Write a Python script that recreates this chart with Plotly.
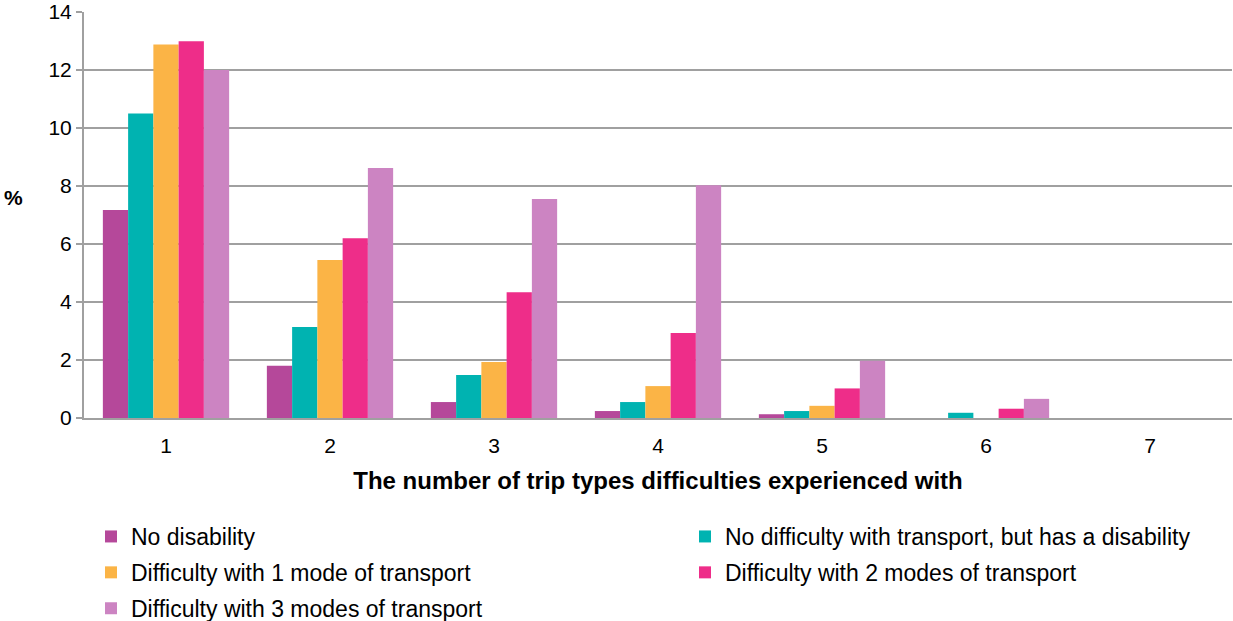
import plotly.graph_objects as go

categories = ["1", "2", "3", "4", "5", "6", "7"]

no_disability = [7.17, 1.80, 0.55, 0.24, 0.13, 0.0, 0.0]
no_difficulty = [10.50, 3.14, 1.48, 0.55, 0.24, 0.18, 0.0]
difficulty_1 = [12.88, 5.45, 1.93, 1.10, 0.42, 0.0, 0.0]
difficulty_2 = [12.99, 6.20, 4.34, 2.93, 1.02, 0.32, 0.0]
difficulty_3 = [12.00, 8.62, 7.55, 8.03, 1.97, 0.66, 0.0]

series = [
    ("No disability", no_disability, "#B5489A", "legend"),
    ("No difficulty with transport, but has a disability", no_difficulty, "#00B3B1", "legend2"),
    ("Difficulty with 1 mode of transport", difficulty_1, "#FBB446", "legend"),
    ("Difficulty with 2 modes of transport", difficulty_2, "#EE2D89", "legend2"),
    ("Difficulty with 3 modes of transport", difficulty_3, "#CC84C2", "legend"),
]

fig = go.Figure()
for name, vals, col, leg in series:
    fig.add_trace(go.Bar(
        x=categories, y=vals, name=name, legend=leg, legendgroup=name,
        marker=dict(color=col, line=dict(width=0)),
    ))

font = "Liberation Sans, Arial, sans-serif"
legend_style = dict(
    orientation="v", xref="container", yref="container",
    yanchor="top", xanchor="left", tracegroupgap=3,
    font=dict(family=font, size=23, color="#000000"),
    bgcolor="rgba(0,0,0,0)", itemwidth=30,
)

fig.update_layout(
    width=1233, height=621,
    margin=dict(l=84, r=1, t=12, b=203, autoexpand=False),
    paper_bgcolor="white", plot_bgcolor="white",
    barmode="group", bargap=0.23, bargroupgap=0,
    font=dict(family=font, size=21, color="#000000"),
    legend=dict(x=91 / 1233, y=1 - 515 / 621, **legend_style),
    legend2=dict(x=685 / 1233, y=1 - 515 / 621, **legend_style),
    xaxis=dict(
        showgrid=False, showline=True, linecolor="#A0A0A0", linewidth=2,
        ticks="", ticklabelstandoff=8,
        title=dict(text="<b>The number of trip types difficulties experienced with</b>",
                   font=dict(size=24), standoff=16),
    ),
    yaxis=dict(
        range=[0, 14], dtick=2, showgrid=True, gridcolor="#A0A0A0", gridwidth=2,
        showline=True, linecolor="#A0A0A0", linewidth=2,
        ticks="outside", ticklen=6, tickcolor="#A0A0A0", tickwidth=2,
        zeroline=False,
    ),
    annotations=[dict(
        text="<b>%</b>", x=-0.061, y=7.62, xref="paper", yref="y",
        showarrow=False, font=dict(size=21), xanchor="center",
    )],
)

# drop the default page margin so the figure fills the window
fig.write_html("out.html", config={"displayModeBar": False},
               post_script="document.body.style.margin='0';")
